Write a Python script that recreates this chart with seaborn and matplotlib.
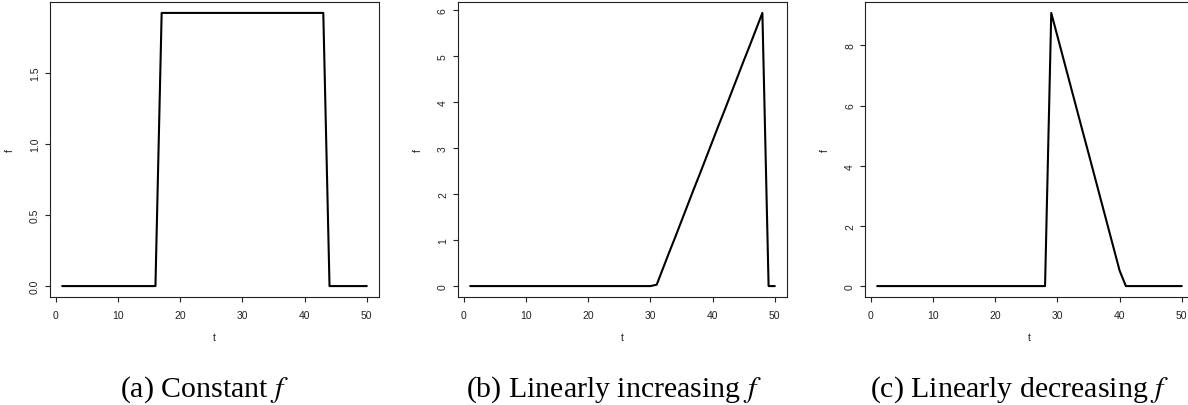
import matplotlib
matplotlib.use("Agg")
import matplotlib.pyplot as plt
import seaborn as sns
import numpy as np
import pandas as pd

# time index shared by all three panels
t = list(range(1, 51))

# (a) constant rate between t=17 and t=43
f_const = [0.0] * 16 + [1.923] * 27 + [0.0] * 7

# (b) rate rising from t=31 up to t=48
f_incr = [0.0] * 30 + [
    0.03, 0.38, 0.73, 1.07, 1.42, 1.77, 2.12, 2.46, 2.81,
    3.16, 3.51, 3.85, 4.20, 4.55, 4.90, 5.24, 5.59, 5.94,
] + [0.0, 0.0]

# (c) rate falling from t=29 down to t=40
f_decr = [0.0] * 28 + [
    9.08, 8.30, 7.52, 6.74, 5.96, 5.18, 4.41, 3.63, 2.85, 2.07, 1.29, 0.51,
] + [0.0] * 10

x_ticks = [0, 10, 20, 30, 40, 50]
y_ticks_a = [0.0, 0.5, 1.0, 1.5]
y_labels_a = ["0.0", "0.5", "1.0", "1.5"]
y_ticks_b = [0, 1, 2, 3, 4, 5, 6]
y_ticks_c = [0, 2, 4, 6, 8]

captions = ["(a) Constant $f$", "(b) Linearly increasing $f$", "(c) Linearly decreasing $f$"]

sns.set_style("white")
plt.rcParams["font.family"] = ["Liberation Sans", "DejaVu Sans"]
plt.rcParams["mathtext.fontset"] = "stix"

W, H = 1188, 406
fig = plt.figure(figsize=(W / 100, H / 100), dpi=100)

panel_lefts = [50, 458, 865]
ax_w, ax_top, ax_bot = 329, 3, 298

series = [f_const, f_incr, f_decr]
yticks = [y_ticks_a, y_ticks_b, y_ticks_c]
ylabels = [y_labels_a, [str(v) for v in y_ticks_b], [str(v) for v in y_ticks_c]]

tick_fs = 7.5
ink = "#222222"
for left, f, yt, yl in zip(panel_lefts, series, yticks, ylabels):
    ax = fig.add_axes([left / W, (H - ax_bot) / H, ax_w / W, (ax_bot - ax_top) / H])
    df = pd.DataFrame({"t": t, "f": f})
    sns.lineplot(data=df, x="t", y="f", ax=ax, color="black", linewidth=1.5)
    ax.margins(x=0.04, y=0.04)
    for s in ax.spines.values():
        s.set_visible(True)
        s.set_color(ink)
        s.set_linewidth(0.8)
    ax.set_xticks(x_ticks)
    ax.set_xticklabels([str(v) for v in x_ticks], fontsize=tick_fs)
    ax.set_yticks(yt)
    ax.set_yticklabels(yl, fontsize=tick_fs, rotation=90, va="center")
    ax.tick_params(axis="both", direction="out", length=3.6, width=0.8,
                   color=ink, labelcolor=ink)
    ax.tick_params(axis="x", pad=5.5, bottom=True)
    ax.tick_params(axis="y", pad=3.6, left=True)
    ax.set_xlabel("t", fontsize=tick_fs, color=ink, va="center", ha="center")
    ax.set_ylabel("f", fontsize=tick_fs, color=ink, va="center", ha="center")
    ax.xaxis.set_label_coords(0.5, -(338 - ax_bot) / (ax_bot - ax_top))
    ax.yaxis.set_label_coords(-40 / ax_w, 0.5)

caption_x = [204, 614, 1020]
for cx, cap in zip(caption_x, captions):
    fig.text(cx / W, (H - 390) / H, cap, ha="center", va="center",
             fontsize=21.5, family=["Liberation Serif", "DejaVu Serif"], color="black")

fig.savefig("out.png", dpi=100)
